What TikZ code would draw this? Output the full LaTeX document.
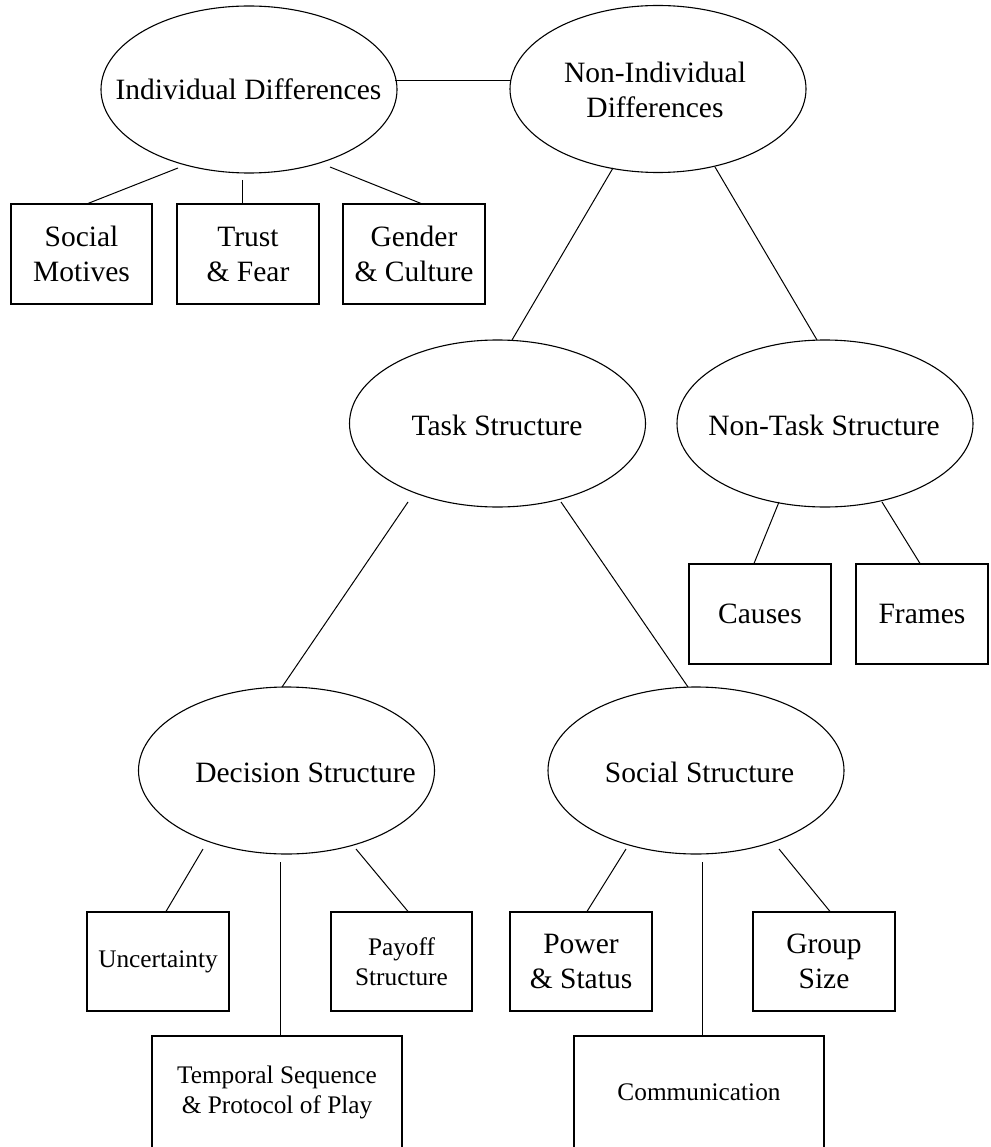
\documentclass[tikz,border=0pt]{standalone}
\usepackage{fontspec}
\setmainfont{Liberation Serif}
\usetikzlibrary{shapes.geometric}
\newcommand{\myBig}{\fontsize{29.5}{35}\selectfont}
\newcommand{\mySmall}{\fontsize{25.3}{29.5}\selectfont}
\begin{document}
\begin{tikzpicture}[x=1pt,y=-1pt,line width=1.1pt,
  oval/.style={draw,ellipse,minimum width=296pt,minimum height=167pt,inner sep=0pt},
  lbl/.style={font=\myBig,inner sep=0pt,anchor=base},
  box/.style={draw,rectangle,inner sep=0pt,align=center,font=\myBig},
  sbox/.style={box,font=\mySmall},
  link/.style={line width=1pt}]
\useasboundingbox (0,0) rectangle (990,1147);

% ellipses
\node[oval] (ind)     at (249,89.5) {};
\node[oval] (nonind)  at (658,89) {};
\node[oval] (task)    at (497.5,423.5) {};
\node[oval] (nontask) at (825,423.5) {};
\node[oval] (dec)     at (286.5,770.5) {};
\node[oval] (soc)     at (696,770.5) {};

% ellipse labels
\node[lbl] (indl)     at (248.5,100) {Individual Differences};
\node[font=\myBig,inner sep=0pt,align=center] (nonindl) at (655,89.5) {Non-Individual\\Differences};
\node[lbl] (taskl)    at (497,435) {Task Structure};
\node[lbl] (nontaskl) at (824,435) {Non-Task Structure};
\node[lbl] (decl)     at (305.5,782) {Decision Structure};
\node[lbl] (socl)     at (699.5,782) {Social Structure};

% boxes
\node[box,minimum width=141pt,minimum height=100pt] (sm) at (81.5,254) {Social\\Motives};
\node[box,minimum width=142pt,minimum height=100pt] (tf) at (248,254) {Trust\\\& Fear};
\node[box,minimum width=142pt,minimum height=100pt] (gc) at (414,254) {Gender\\\& Culture};
\node[box,minimum width=142pt,minimum height=100pt] (ca) at (760,614) {Causes};
\node[box,minimum width=132pt,minimum height=100pt] (fr) at (922,614) {Frames};
\node[sbox,minimum width=142pt,minimum height=99pt] (un) at (158,961.5) {Uncertainty};
\node[sbox,minimum width=141pt,minimum height=99pt] (po) at (401.5,961.5) {Payoff\\Structure};
\node[box,minimum width=142pt,minimum height=99pt] (ps) at (581,961.5) {Power\\\& Status};
\node[box,minimum width=142pt,minimum height=99pt] (gs) at (824,961.5) {Group\\Size};
\node[sbox,minimum width=250pt,minimum height=113pt] (tp) at (277,1092.5) {Temporal Sequence\\\& Protocol of Play};
\node[sbox,minimum width=250pt,minimum height=113pt] (cm) at (699,1092.5) {Communication};

% connectors
\draw[link] ([shift={(146,-9)}]ind.center) -- ([shift={(-147,-8.5)}]nonind.center);
\draw[link] ([shift={(-71,78.5)}]ind.center) -- ([xshift=6.5pt]sm.north);
\draw[link] ([shift={(-7,90.5)}]ind.center) -- ([xshift=-6pt]tf.north);
\draw[link] ([shift={(81,77.5)}]ind.center) -- ([xshift=7pt]gc.north);
\draw[link] ([shift={(-45,79)}]nonind.center) -- ([shift={(14.5,-83.5)}]task.center);
\draw[link] ([shift={(57,78)}]nonind.center) -- ([shift={(-8,-83.5)}]nontask.center);
\draw[link] ([shift={(-89.5,78.5)}]task.center) -- ([shift={(-4.5,-83.5)}]dec.center);
\draw[link] ([shift={(63.5,78.5)}]task.center) -- ([shift={(-8,-83.5)}]soc.center);
\draw[link] ([shift={(-46,78.5)}]nontask.center) -- ([xshift=-6pt]ca.north);
\draw[link] ([shift={(57,78.5)}]nontask.center) -- ([xshift=-2pt]fr.north);
\draw[link] ([shift={(-83.5,78.5)}]dec.center) -- ([xshift=8pt]un.north);
\draw[link] ([shift={(-6.5,91.5)}]dec.center) -- ([xshift=3pt]tp.north);
\draw[link] ([shift={(69.5,78.5)}]dec.center) -- ([xshift=6.5pt]po.north);
\draw[link] ([shift={(-70,78.5)}]soc.center) -- ([xshift=6pt]ps.north);
\draw[link] ([shift={(6,91.5)}]soc.center) -- ([xshift=3pt]cm.north);
\draw[link] ([shift={(83,78.5)}]soc.center) -- ([xshift=6pt]gs.north);
\end{tikzpicture}
\end{document}
